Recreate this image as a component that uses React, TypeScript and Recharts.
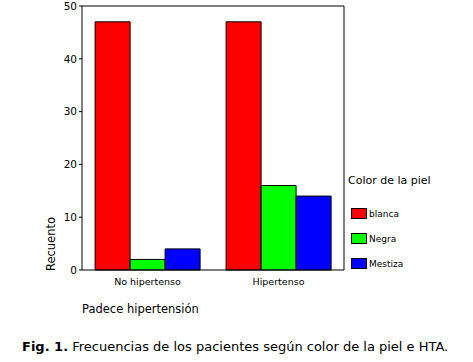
import React from 'react';
import { BarChart, Bar, XAxis, YAxis } from 'recharts';

const categories = ['No hipertenso', 'Hipertenso'];
const blanca = [47, 47];
const negra = [2, 16];
const mestiza = [4, 14];
const yTicks = [0, 10, 20, 30, 40, 50];

const seriesDefs = [
  { key: 'blanca', name: 'blanca', color: '#ff0000' },
  { key: 'negra', name: 'Negra', color: '#00ff00' },
  { key: 'mestiza', name: 'Mestiza', color: '#0000ff' },
];

const data = categories.map((c, i) => ({
  cat: c,
  blanca: blanca[i],
  negra: negra[i],
  mestiza: mestiza[i],
}));

const FONT = '"DejaVu Sans", Verdana, sans-serif';

const LegendBox = () => (
  <div style={{ position: 'absolute', left: 348, top: 174, width: 125, fontFamily: FONT, color: '#000' }}>
    <div style={{ fontSize: 11, marginBottom: 14, whiteSpace: 'nowrap' }}>Color de la piel</div>
    {seriesDefs.map((s) => (
      <div key={s.key} style={{ display: 'flex', alignItems: 'center', height: 25, marginLeft: 3 }}>
        <div style={{ width: 16, height: 11, background: s.color, border: '1px solid #000', boxSizing: 'border-box' }} />
        <span style={{ fontSize: 9, marginLeft: 2 }}>{s.name}</span>
      </div>
    ))}
  </div>
);

export default function App() {
  return (
    <div style={{ position: 'absolute', left: 0, top: 0, width: 473, height: 362, background: '#fff' }}>
      <BarChart
        width={473}
        height={362}
        data={data}
        margin={{ top: 5, right: 128, left: 42, bottom: 62 }}
        barCategoryGap="10%"
        barGap={0}
      >
        <XAxis
          dataKey="cat"
          axisLine={{ stroke: '#000' }}
          tickLine={false}
          tick={{ fill: '#000', fontSize: 9.5, fontFamily: FONT }}
          tickMargin={2}
        />
        <XAxis xAxisId="top" orientation="top" dataKey="cat" height={1} tick={false} tickLine={false} axisLine={{ stroke: '#000' }} />
        <YAxis
          domain={[0, 50]}
          ticks={yTicks}
          width={40}
          axisLine={{ stroke: '#000' }}
          tickLine={{ stroke: '#000' }}
          tickSize={3}
          tick={{ fill: '#000', fontSize: 10.5, fontFamily: FONT }}
          label={{
            content: (props: any) => {
              const vb = props.viewBox || {};
              const x = vb.x + 13;
              const y = vb.y + vb.height - 26;
              return (
                <text x={x} y={y} transform={`rotate(-90, ${x}, ${y})`} textAnchor="middle" fontSize={11.5} fontFamily={FONT} fill="#000">
                  Recuento
                </text>
              );
            },
          }}
        />
        <YAxis yAxisId="right" orientation="right" domain={[0, 50]} width={1} tick={false} tickLine={false} axisLine={{ stroke: '#000' }} />
        {seriesDefs.map((s) => (
          <Bar
            key={s.key}
            dataKey={s.key}
            name={s.name}
            fill={s.color}
            stroke="#000"
            strokeWidth={1}
            isAnimationActive={false}
          />
        ))}
      </BarChart>
      <LegendBox />
      <div style={{ position: 'absolute', left: 82, top: 302, fontFamily: FONT, fontSize: 11.5, whiteSpace: 'nowrap' }}>
        Padece hipertensión
      </div>
      <div style={{ position: 'absolute', left: 22, top: 339, fontFamily: FONT, fontSize: 13, whiteSpace: 'nowrap' }}>
        <b>Fig. 1.</b> Frecuencias de los pacientes según color de la piel e HTA.
      </div>
    </div>
  );
}
